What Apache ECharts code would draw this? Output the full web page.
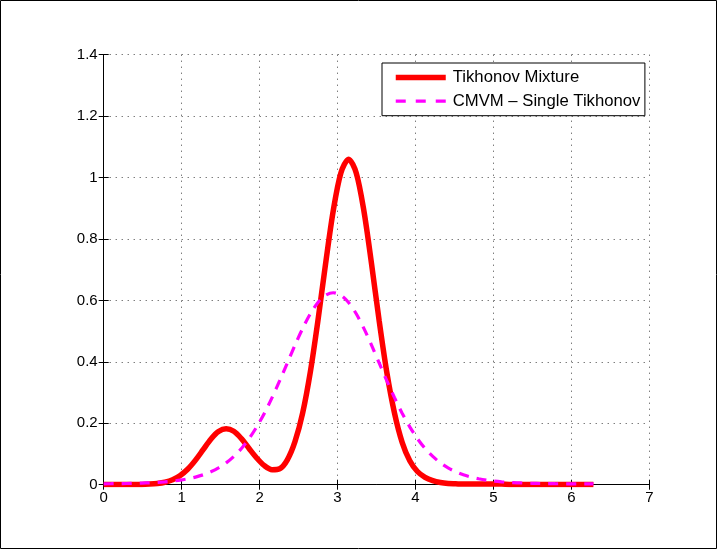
<!DOCTYPE html>
<html>
<head>
<meta charset="utf-8">
<script src="https://cdn.jsdelivr.net/npm/echarts@6/dist/echarts.min.js"></script>
<style>
html,body{margin:0;padding:0;background:#fff;}
#chart{width:717px;height:549px;}
</style>
</head>
<body>
<div id="chart"></div>
<script>
// sample positions (angle, rad)
const xs = [0, 0.098, 0.196, 0.295, 0.393, 0.491, 0.589, 0.687, 0.785, 0.884,
  0.982, 1.080, 1.178, 1.276, 1.374, 1.473, 1.571, 1.669, 1.767, 1.865,
  1.963, 2.062, 2.160, 2.258, 2.356, 2.454, 2.553, 2.651, 2.749, 2.847,
  2.945, 3.043, 3.142, 3.240, 3.338, 3.436, 3.534, 3.632, 3.731, 3.829,
  3.927, 4.025, 4.123, 4.222, 4.320, 4.418, 4.516, 4.614, 4.712, 4.811,
  4.909, 5.007, 5.105, 5.203, 5.301, 5.400, 5.498, 5.596, 5.694, 5.792,
  5.890, 5.989, 6.087, 6.185, 6.283];

// Tikhonov Mixture
const mixture = [0.001, 0.001, 0.001, 0.001, 0.001, 0.001, 0.002, 0.004, 0.008, 0.016,
  0.030, 0.051, 0.080, 0.114, 0.148, 0.173, 0.182, 0.174, 0.150, 0.118,
  0.087, 0.062, 0.049, 0.052, 0.081, 0.140, 0.234, 0.367, 0.535, 0.720,
  0.892, 1.015, 1.060, 1.015, 0.892, 0.720, 0.534, 0.366, 0.233, 0.138,
  0.078, 0.043, 0.024, 0.013, 0.007, 0.004, 0.003, 0.002, 0.002, 0.002,
  0.002, 0.002, 0.002, 0.001, 0.001, 0.001, 0.001, 0.001, 0.001, 0.001,
  0.001, 0.001, 0.001, 0.001, 0.001];

// CMVM - Single Tikhonov
const single = [0.0030, 0.0032, 0.0035, 0.0039, 0.0045, 0.0052, 0.0062, 0.0076, 0.0094, 0.0118,
  0.0149, 0.0192, 0.0248, 0.0322, 0.0420, 0.0547, 0.0711, 0.0920, 0.1180, 0.1500,
  0.1883, 0.2329, 0.2834, 0.3386, 0.3965, 0.4544, 0.5089, 0.5564, 0.5934, 0.6169,
  0.6250, 0.6169, 0.5934, 0.5564, 0.5089, 0.4544, 0.3965, 0.3386, 0.2834, 0.2329,
  0.1883, 0.1500, 0.1180, 0.0920, 0.0711, 0.0547, 0.0420, 0.0322, 0.0248, 0.0192,
  0.0149, 0.0118, 0.0094, 0.0076, 0.0062, 0.0052, 0.0045, 0.0039, 0.0035, 0.0032,
  0.0030, 0.0029, 0.0028, 0.0029, 0.0030];

const seriesNames = ['Tikhonov Mixture', 'CMVM \u2013 Single Tikhonov'];
const xTicks = {min: 0, max: 7, interval: 1};
const yTicks = {min: 0, max: 1.4, interval: 0.2};

const FONT = 'Liberation Sans, Arial, Helvetica, sans-serif';
const chart = echarts.init(document.getElementById('chart'), null, {renderer: 'canvas'});

const pair = (ys) => xs.map((x, i) => [x, ys[i]]);
const gridLine = {show: true, lineStyle: {color: '#444', width: 1, type: [1, 5]}};
const tickIn = {show: true, inside: true, length: 5, lineStyle: {color: '#000', width: 1}};
const axLine = {show: true, lineStyle: {color: '#000', width: 1}};

chart.setOption({
  animation: false,
  backgroundColor: '#fff',
  grid: {left: 103.7, right: 67.7, top: 54.7, bottom: 64.3, containLabel: false},
  xAxis: [
    {type: 'value', min: xTicks.min, max: xTicks.max, interval: xTicks.interval, position: 'bottom',
     axisLine: axLine, axisTick: tickIn, splitLine: gridLine,
     axisLabel: {color: '#000', fontFamily: FONT, fontSize: 15, margin: 6}},
    {type: 'value', min: xTicks.min, max: xTicks.max, interval: xTicks.interval, position: 'top',
     axisLine: axLine, axisTick: tickIn, splitLine: {show: false}, axisLabel: {show: false}}
  ],
  yAxis: [
    {type: 'value', min: yTicks.min, max: yTicks.max, interval: yTicks.interval, position: 'left',
     axisLine: axLine, axisTick: tickIn, splitLine: gridLine,
     axisLabel: {color: '#000', fontFamily: FONT, fontSize: 15, margin: 6}},
    {type: 'value', min: yTicks.min, max: yTicks.max, interval: yTicks.interval, position: 'right',
     axisLine: axLine, axisTick: tickIn, splitLine: {show: false}, axisLabel: {show: false}}
  ],
  legend: {
    orient: 'vertical', left: 382, top: 63,
    backgroundColor: '#fff', borderColor: '#000', borderWidth: 1, borderRadius: 0,
    padding: [6, 4.5, 6, 11], itemGap: 6.7, itemWidth: 50, itemHeight: 14,
    itemStyle: {opacity: 0},
    textStyle: {color: '#000', fontFamily: FONT, fontSize: 16.7, lineHeight: 14, padding: [0, 0, 0, 2]},
    data: [
      {name: seriesNames[0], lineStyle: {color: '#ff0000', width: 5.5, type: 'solid'}},
      {name: seriesNames[1], lineStyle: {color: '#ff00ff', width: 3.3, type: [10, 10]}}
    ]
  },
  series: [
    {name: seriesNames[0], type: 'line', data: pair(mixture), smooth: 0.3, symbol: 'none',
     xAxisIndex: 0, yAxisIndex: 0,
     lineStyle: {color: '#ff0000', width: 5.5}, itemStyle: {color: '#ff0000'}},
    {name: seriesNames[1], type: 'line', data: pair(single), smooth: 0.3, symbol: 'none',
     xAxisIndex: 0, yAxisIndex: 0,
     lineStyle: {color: '#ff00ff', width: 3.2, type: [10, 8]}, itemStyle: {color: '#ff00ff'}}
  ],
  graphic: [
    {type: 'rect', shape: {x: 0.5, y: 0.5, width: 716, height: 548}, silent: true,
     style: {fill: null, stroke: '#000', lineWidth: 1}, z: 100}
  ]
});
</script>
</body>
</html>
